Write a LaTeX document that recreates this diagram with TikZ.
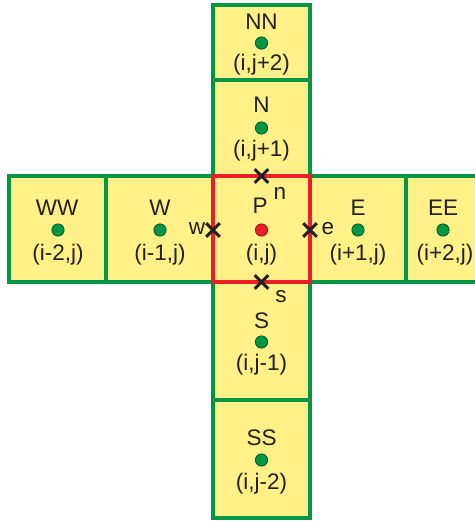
\documentclass[tikz,border=0pt]{standalone}
\usepackage{fontspec}
\setmainfont{Liberation Sans}
\usetikzlibrary{shapes.misc}

\definecolor{cellyellow}{RGB}{255,241,135}
\definecolor{cellgreen}{RGB}{0,150,70}
\definecolor{cellred}{RGB}{235,30,40}
\definecolor{inkgray}{RGB}{35,31,32}

\begin{document}
\begin{tikzpicture}[x=0.02cm, y=-0.02cm,
    % Define the styles for the control volumes
    cellbox/.style={fill=cellyellow, draw=cellgreen, line width=1.9pt},
    centerbox/.style={fill=cellyellow, draw=cellred, line width=1.9pt},
    nodept/.style={circle, fill=cellgreen, draw=black!50!cellgreen, line width=0.4pt,
        inner sep=0pt, minimum size=7pt},
    centerpt/.style={nodept, fill=cellred, draw=black!40!cellred},
    celltext/.style={font=\fontsize{12.8}{14}\selectfont, text=inkgray, inner sep=0pt},
    facemark/.style={cross out, draw=inkgray, line width=1.7pt, inner sep=0pt, minimum size=6pt}
]
\useasboundingbox (0,0) rectangle (475,521);

% Draw the cells
\draw[cellbox] (213,5) rectangle (310,80);
\draw[cellbox] (213,80) rectangle (310,176);
\draw[cellbox] (213,282) rectangle (310,400);
\draw[cellbox] (213,400) rectangle (310,518);
\draw[cellbox] (9,176) rectangle (106,282);
\draw[cellbox] (106,176) rectangle (213,282);
\draw[cellbox] (310,176) rectangle (406,282);
\draw[cellbox] (406,176) rectangle (503,282);
\draw[centerbox] (213,176) rectangle (310,282);

% Add the grid points
\node[nodept] (NN) at (261.5,43) {};
\node[nodept] (N) at (261.5,128) {};
\node[centerpt] (P) at (261.5,230) {};
\node[nodept] (S) at (261.5,342) {};
\node[nodept] (SS) at (261.5,460) {};
\node[nodept] (WW) at (58,230) {};
\node[nodept] (W) at (160,230) {};
\node[nodept] (E) at (358,230) {};
\node[nodept] (EE) at (443,230) {};

% Add the point labels
\node[celltext] (NNname) at (261.5,22) {NN};
\node[celltext] (NNidx) at (261.5,65) {(i,j+2)};
\node[celltext] (Nname) at (261.5,105) {N};
\node[celltext] (Nidx) at (261.5,151) {(i,j+1)};
\node[celltext] (Pname) at (260,206) {P};
\node[celltext] (Pidx) at (261.5,255) {(i,j)};
\node[celltext] (Sname) at (261.5,321) {S};
\node[celltext] (Sidx) at (261.5,365) {(i,j-1)};
\node[celltext] (SSname) at (261.5,438) {SS};
\node[celltext] (SSidx) at (261.5,484) {(i,j-2)};
\node[celltext] (WWname) at (57,208) {WW};
\node[celltext] (WWidx) at (58,255) {(i-2,j)};
\node[celltext] (Wname) at (160,208) {W};
\node[celltext] (Widx) at (160,255) {(i-1,j)};
\node[celltext] (Ename) at (358,208) {E};
\node[celltext] (Eidx) at (358,255) {(i+1,j)};
\node[celltext] (EEname) at (443,208) {EE};
\node[celltext] (EEidx) at (445,255) {(i+2,j)};

% Mark the faces of the centre cell
\node[facemark] (n) at (261.5,176) {};
\node[facemark] (s) at (261.5,282) {};
\node[facemark] (w) at (213,230) {};
\node[facemark] (e) at (310,230) {};
\node[celltext] (nname) at (280,193) {n};
\node[celltext] (sname) at (281,297) {s};
\node[celltext] (wname) at (197,229) {w};
\node[celltext] (ename) at (328,229) {e};

\end{tikzpicture}
\end{document}
